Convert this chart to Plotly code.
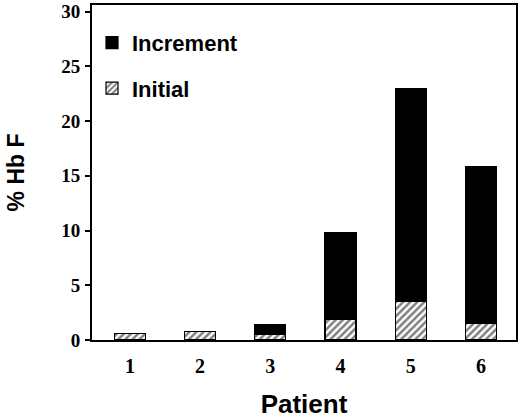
import plotly.graph_objects as go

# % Hb F per patient
patients = ["1", "2", "3", "4", "5", "6"]
initial = [0.6, 0.8, 0.55, 1.9, 3.5, 1.5]
increment = [0.0, 0.0, 0.9, 7.9, 19.5, 14.3]

fig = go.Figure()

fig.add_trace(go.Bar(
    x=patients, y=initial, name="Initial", legendgroup="b", legendrank=2,
    marker=dict(color="white", line=dict(color="black", width=1.2),
                pattern=dict(shape="/", fgcolor="black", bgcolor="white", size=5, solidity=0.5)),
))
fig.add_trace(go.Bar(
    x=patients, y=increment, name="Increment", legendgroup="a", legendrank=1,
    marker=dict(color="black", line=dict(color="black", width=1.2)),
))

fig.update_layout(
    width=520, height=419,
    barmode="stack",
    bargap=0.56,
    plot_bgcolor="white",
    paper_bgcolor="white",
    margin=dict(l=92, r=4, t=5, b=79),
    showlegend=True,
    legend=dict(
        x=0.0, y=0.95, xanchor="left", yanchor="top",
        traceorder="grouped", tracegroupgap=14,
        font=dict(family="Liberation Sans, Arial", size=22, color="black", weight="bold"),
        bgcolor="rgba(0,0,0,0)",
    ),
)

fig.update_xaxes(
    type="category", range=[-0.54, 5.5], automargin=False,
    showline=True, linecolor="black", linewidth=2, mirror=True,
    ticks="", showgrid=False, ticklabelstandoff=7,
    tickfont=dict(family="Liberation Serif, Times New Roman", size=20, color="black", weight="bold"),
    title=dict(text="<b>Patient</b>", standoff=26,
               font=dict(family="Liberation Sans, Arial", size=26, color="black")),
)
fig.update_yaxes(
    range=[0, 30.6], tickvals=[0, 5, 10, 15, 20, 25, 30], automargin=False,
    showline=True, linecolor="black", linewidth=2, mirror=True,
    ticks="outside", ticklen=5, tickwidth=1.5, tickcolor="black",
    showgrid=False, zeroline=False, ticklabeloverflow="allow", ticklabelstandoff=1,
    tickfont=dict(family="Liberation Serif, Times New Roman", size=19, color="black", weight="bold"),
    title=dict(text="<b>% Hb F</b>", standoff=30,
               font=dict(family="Liberation Sans, Arial", size=23, color="black")),
)

fig.write_html("out.html", config={"displayModeBar": False},
               post_script="document.body.style.margin='0';")
